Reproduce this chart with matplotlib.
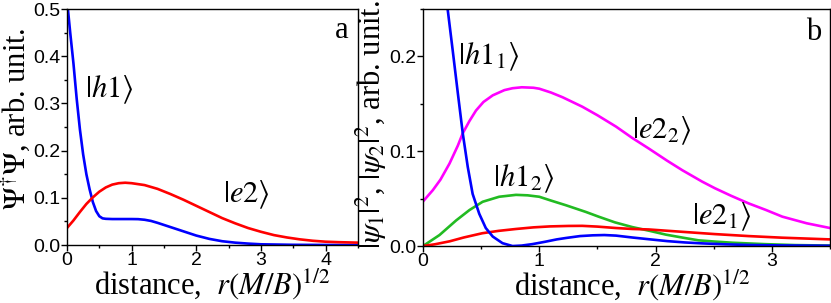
import matplotlib
matplotlib.use("Agg")
import matplotlib.pyplot as plt
from matplotlib.ticker import MultipleLocator

# panel a: |h1> and |e2>
xa_h1 = [0.0, 0.05, 0.1, 0.15, 0.2, 0.25, 0.3, 0.35, 0.4, 0.45, 0.5, 0.55, 0.6, 0.7, 0.8,
         1.0, 1.1, 1.2, 1.3, 1.4, 1.6, 1.8, 2.0, 2.2, 2.4, 2.6, 2.8, 3.0, 3.5, 4.0, 4.5]
ya_h1 = [0.52, 0.45, 0.385, 0.31, 0.245, 0.192, 0.15, 0.118, 0.091, 0.072, 0.061, 0.0565, 0.0555,
         0.055, 0.055, 0.055, 0.0548, 0.0535, 0.051, 0.047, 0.038, 0.029, 0.02, 0.013, 0.008,
         0.005, 0.003, 0.0015, 0.0004, 0.0001, 0.0]
xa_e2 = [0.0, 0.1, 0.2, 0.3, 0.4, 0.5, 0.6, 0.7, 0.8, 0.9, 1.0, 1.2, 1.4, 1.6, 1.8, 2.0, 2.2, 2.4,
         2.6, 2.8, 3.0, 3.2, 3.4, 3.6, 3.8, 4.0, 4.2, 4.5]
ya_e2 = [0.036, 0.052, 0.07, 0.087, 0.101, 0.113, 0.122, 0.128, 0.131, 0.132, 0.131, 0.127, 0.119,
         0.108, 0.096, 0.083, 0.07, 0.057, 0.046, 0.036, 0.028, 0.021, 0.016, 0.012, 0.009, 0.007,
         0.006, 0.005]

# panel b: four components
xb_h11 = [0.21, 0.256, 0.3, 0.342, 0.385, 0.427, 0.484, 0.54, 0.6, 0.684, 0.77, 0.85, 0.94, 1.05,
          1.15, 1.23, 1.35, 1.46, 1.56, 1.66, 1.8, 1.94, 2.1, 2.25, 2.4, 2.6, 2.8, 3.1, 3.5]
yb_h11 = [0.252, 0.206, 0.161, 0.119, 0.0835, 0.055, 0.034, 0.019, 0.01, 0.003, 0.0, 0.0005, 0.002,
          0.0045, 0.007, 0.0085, 0.0105, 0.0113, 0.0116, 0.011, 0.009, 0.0072, 0.0052, 0.0038,
          0.0028, 0.0018, 0.0011, 0.0006, 0.0003]
xb_e22 = [0.0, 0.085, 0.15, 0.228, 0.3, 0.342, 0.4, 0.456, 0.52, 0.6, 0.7, 0.77, 0.85, 0.95, 1.0,
          1.1, 1.2, 1.37, 1.5, 1.66, 1.8, 1.94, 2.1, 2.23, 2.4, 2.51, 2.65, 2.8, 2.95, 3.09, 3.3,
          3.5]
yb_e22 = [0.047, 0.059, 0.07, 0.087, 0.106, 0.119, 0.132, 0.143, 0.152, 0.159, 0.1645, 0.1665,
          0.1675, 0.167, 0.166, 0.162, 0.157, 0.147, 0.138, 0.126, 0.114, 0.103, 0.09, 0.08, 0.068,
          0.061, 0.053, 0.045, 0.038, 0.031, 0.024, 0.019]
xb_h12 = [0.0, 0.142, 0.285, 0.4, 0.513, 0.655, 0.8, 0.9, 1.0, 1.1, 1.23, 1.4, 1.51, 1.65, 1.8,
          1.95, 2.09, 2.25, 2.37, 2.5, 2.66, 2.94, 3.2, 3.5]
yb_h12 = [0.0, 0.0116, 0.027, 0.038, 0.0467, 0.052, 0.054, 0.0535, 0.052, 0.048, 0.043, 0.036,
          0.031, 0.025, 0.02, 0.016, 0.012, 0.0085, 0.006, 0.0048, 0.0035, 0.002, 0.001, 0.0005]
xb_e21 = [0.0, 0.1, 0.23, 0.35, 0.51, 0.65, 0.8, 0.95, 1.09, 1.25, 1.37, 1.5, 1.66, 1.8, 1.94,
          2.23, 2.51, 2.8, 3.09, 3.5]
yb_e21 = [0.0, 0.0018, 0.005, 0.009, 0.0135, 0.016, 0.018, 0.0197, 0.0207, 0.0212, 0.0213, 0.0205,
          0.019, 0.018, 0.0175, 0.015, 0.0126, 0.0105, 0.0088, 0.007]

xticks_a = [0, 1, 2, 3, 4]
yticks_a = [0.0, 0.1, 0.2, 0.3, 0.4, 0.5]
xticks_b = [0, 1, 2, 3]
yticks_b = [0.0, 0.1, 0.2]

plt.rcParams['mathtext.fontset'] = 'stix'
plt.rcParams['font.family'] = ['Liberation Serif', 'DejaVu Serif']
TICKFONT = ['Liberation Sans Narrow', 'Liberation Sans', 'DejaVu Sans']
TICKSIZE = 14
LABELSIZE = 22
KETSIZE = 22
LW = 1.9
XLABEL = r'distance,  $r(M/B)^{1/2}$'

fig = plt.figure(figsize=(8.31, 3.03), dpi=100)
ax_a = fig.add_axes([0.0806, 0.1914, 0.3502, 0.7786])
ax_b = fig.add_axes([0.509, 0.188, 0.4898, 0.782])


def style_axes(ax, xt, yt):
    ax.set_xticks(xt, [str(v) for v in xt], fontsize=TICKSIZE, fontfamily=TICKFONT)
    ax.set_yticks(yt, [f'{v:.1f}' for v in yt], fontsize=TICKSIZE, fontfamily=TICKFONT)
    ax.tick_params(which='both', direction='out', top=False, right=False, width=1)
    ax.tick_params(which='major', length=4, pad=1)
    ax.tick_params(which='minor', length=2.5)
    for s in ax.spines.values():
        s.set_linewidth(1)
    ax.xaxis.set_minor_locator(MultipleLocator(0.5))
    ax.yaxis.set_minor_locator(MultipleLocator(0.05))
    ax.set_xlabel(XLABEL, fontsize=LABELSIZE)


ax_a.plot(xa_h1, ya_h1, color='#0000ff', lw=LW)
ax_a.plot(xa_e2, ya_e2, color='#ff0000', lw=LW)
ax_a.set_xlim(0, 4.5)
ax_a.set_ylim(0, 0.5)
style_axes(ax_a, xticks_a, yticks_a)
ax_a.xaxis.set_label_coords(0.5, -0.09)
ax_a.set_ylabel(r'$\Psi^{\dagger}\Psi$, arb. unit.', fontsize=LABELSIZE)
ax_a.yaxis.set_label_coords(-0.12, 0.536)
ax_a.text(0.28, 0.33, r'$|h1\rangle$', fontsize=KETSIZE, va='center', ha='left')
ax_a.text(2.42, 0.106, r'$|e2\rangle$', fontsize=KETSIZE, va='center', ha='left')
ax_a.text(4.14, 0.455, 'a', fontsize=KETSIZE, va='center', ha='left')

ax_b.plot(xb_e22, yb_e22, color='#ff00ff', lw=LW)
ax_b.plot(xb_h12, yb_h12, color='#22bb22', lw=LW)
ax_b.plot(xb_e21, yb_e21, color='#ff0000', lw=LW)
ax_b.plot(xb_h11, yb_h11, color='#0000ff', lw=LW)
ax_b.set_xlim(0, 3.5)
ax_b.set_ylim(0, 0.25)
style_axes(ax_b, xticks_b, yticks_b)
ax_b.xaxis.set_label_coords(0.515, -0.09)
ax_b.set_ylabel(r'$|\psi_1|^2$, $|\psi_2|^2$, arb. unit.', fontsize=LABELSIZE)
ax_b.yaxis.set_label_coords(-0.083, 0.515)
ax_b.text(0.3, 0.2, r'$|h1_1\rangle$', fontsize=KETSIZE, va='center', ha='left')
ax_b.text(1.8, 0.122, r'$|e2_2\rangle$', fontsize=KETSIZE, va='center', ha='left')
ax_b.text(0.6, 0.071, r'$|h1_2\rangle$', fontsize=KETSIZE, va='center', ha='left')
ax_b.text(2.31, 0.031, r'$|e2_1\rangle$', fontsize=KETSIZE, va='center', ha='left')
ax_b.text(3.29, 0.225, 'b', fontsize=KETSIZE, va='center', ha='left')

fig.savefig('out.png', dpi=100)
